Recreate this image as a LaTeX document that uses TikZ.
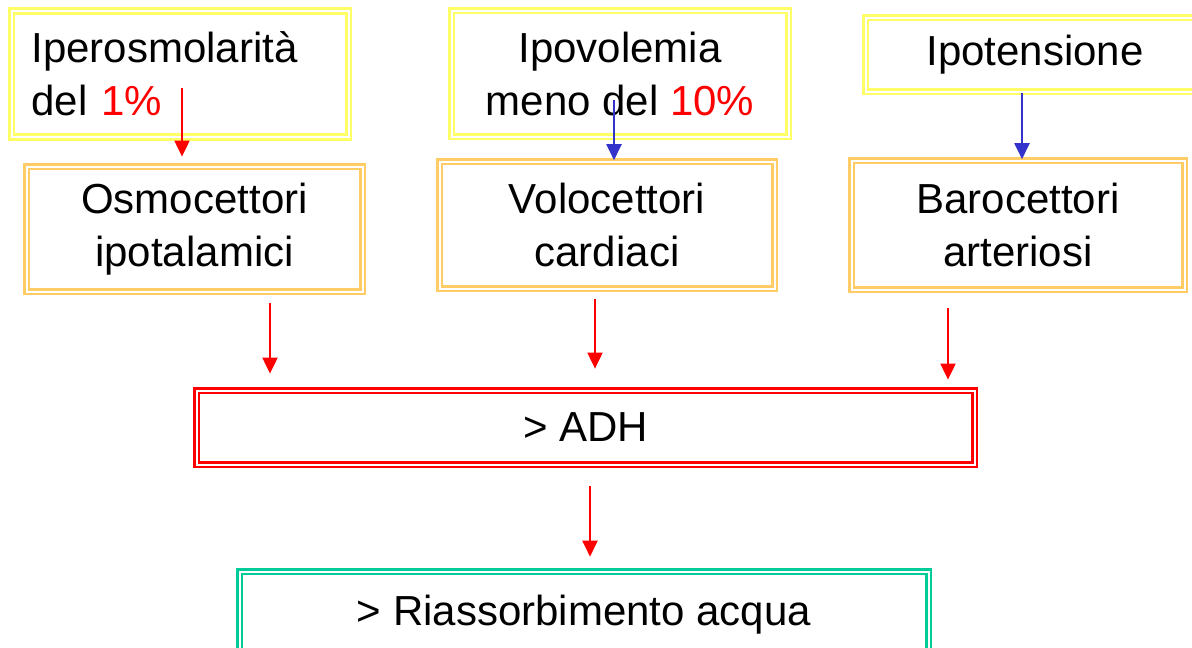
\documentclass[tikz,border=0pt]{standalone}
\usepackage{fontspec}
\setmainfont{Liberation Sans}
\usetikzlibrary{arrows.meta}
\definecolor{boxyellow}{HTML}{FFFF66}
\definecolor{boxorange}{HTML}{FFCC66}
\definecolor{boxred}{HTML}{FF0000}
\definecolor{boxgreen}{HTML}{00CC99}
\definecolor{arrred}{HTML}{FF0000}
\definecolor{arrblue}{HTML}{3333CC}
\begin{document}
\begin{tikzpicture}[x=1pt,y=-1pt,
  dbox/.style={draw=#1, double=white, line width=2.6pt, double distance=2pt,
    inner sep=0pt, align=center, font=\fontsize{42}{53}\selectfont},
  redarr/.style={draw=arrred, line width=2pt, -{Triangle[width=15pt,length=16pt]}},
  bluearr/.style={draw=arrblue, line width=2pt, -{Triangle[width=15pt,length=16pt]}}]
\useasboundingbox (0,0) rectangle (1192,648);
\clip (0,0) rectangle (1192,648);

\node[dbox=boxyellow, minimum width=337pt, minimum height=126pt, text width=297pt,
  inner xsep=20pt, align=left] (b1) at (180,74) {Iperosmolarità\\del \textcolor{arrred}{1\%}};
\node[dbox=boxyellow, minimum width=337pt, minimum height=126pt] (b3) at (620,73.5)
  {Ipovolemia\\meno del \textcolor{arrred}{10\%}};
\node[dbox=boxyellow, minimum width=339pt, minimum height=74pt] (b5) at (1035,54.5) {Ipotensione};

\node[dbox=boxorange, minimum width=336pt, minimum height=125pt] (b2) at (194.5,229) {Osmocettori\\ipotalamici};
\node[dbox=boxorange, minimum width=335pt, minimum height=127pt] (b4) at (607,225) {Volocettori\\cardiaci};
\node[dbox=boxorange, minimum width=333pt, minimum height=129pt] (b6) at (1018,225) {Barocettori\\arteriosi};

\node[dbox=boxred, minimum width=778pt, minimum height=74pt] (adh) at (585.5,427.5) {> ADH};
\node[dbox=boxgreen, minimum width=689pt, text height=53.4pt, text depth=60pt, anchor=base] (ria) at (584,625)
  {> Riassorbimento acqua};

\coordinate (s1) at (182,88);
\coordinate (s2) at (614,100);
\coordinate (x3) at (1022,0);
\coordinate (x4) at (270,0);
\coordinate (x5) at (595,0);
\coordinate (x6) at (948,0);
\coordinate (x7) at (590,0);

\draw[redarr, shorten >=8.6pt] (s1) -- (s1 |- b2.north);
\draw[bluearr] (s2) -- (s2 |- b4.north);
\draw[bluearr] (b5.south -| x3) -- (b6.north -| x3);
\draw[redarr, shorten <=10.6pt, shorten >=15.6pt] (b2.south -| x4) -- (adh.north -| x4);
\draw[redarr, shorten <=9.5pt, shorten >=20.6pt] (b4.south -| x5) -- (adh.north -| x5);
\draw[redarr, shorten <=17.5pt, shorten >=9.6pt] (b6.south -| x6) -- (adh.north -| x6);
\draw[redarr, shorten <=20.6pt, shorten >=13.6pt] (adh.south -| x7) -- (ria.north -| x7);
\end{tikzpicture}
\end{document}
